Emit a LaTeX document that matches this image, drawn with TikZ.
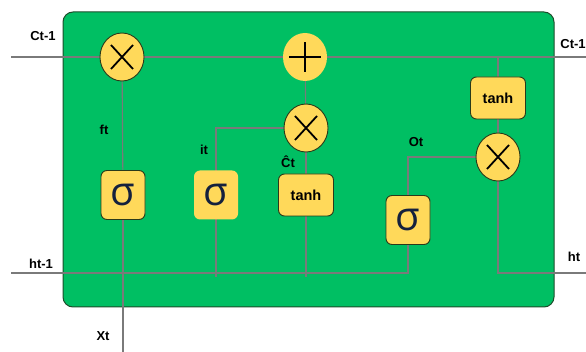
\documentclass[tikz,border=0pt]{standalone}
\usepackage{fontspec}
\setmainfont{Liberation Sans}
\newfontfamily\sigfont{Open Sans}
\usetikzlibrary{shapes.geometric}
\pgfdeclarelayer{boxlayer}
\pgfdeclarelayer{linelayer}
\pgfsetlayers{boxlayer,linelayer,main}
\definecolor{lstmgreen}{HTML}{00BF63}
\definecolor{boxedge}{HTML}{1E4D2B}
\definecolor{yel}{HTML}{FFD95A}
\definecolor{dark}{HTML}{2A3A1A}
\definecolor{lgray}{HTML}{7A7A7A}
\definecolor{navy}{HTML}{14213D}
\begin{document}
\begin{tikzpicture}[x=1pt,y=-1pt,
  conn/.style={draw=lgray,line width=1.1pt},
  opnode/.style={ellipse,fill=yel,minimum width=44pt,minimum height=48pt,inner sep=0pt},
  bordered/.style={draw=dark,line width=0.9pt},
  mulnode/.style={opnode,bordered,path picture={
     \draw[line width=1.8pt,black]
       ([shift={(-11pt,-12pt)}]path picture bounding box.center) -- ([shift={(11pt,12pt)}]path picture bounding box.center)
       ([shift={(-11pt,12pt)}]path picture bounding box.center) -- ([shift={(11pt,-12pt)}]path picture bounding box.center);}},
  plusnode/.style={opnode,path picture={
     \draw[line width=1.8pt,black]
       ([shift={(-16pt,0pt)}]path picture bounding box.center) -- ([shift={(16pt,0pt)}]path picture bounding box.center)
       ([shift={(0pt,-15pt)}]path picture bounding box.center) -- ([shift={(0pt,15pt)}]path picture bounding box.center);}},
  sigbox/.style={rectangle,rounded corners=6pt,fill=yel,minimum width=44pt,minimum height=49pt,inner sep=0pt,
     font=\sigfont\fontsize{40}{40}\selectfont,text=navy},
  tanhbox/.style={rectangle,rounded corners=6pt,fill=yel,bordered,minimum width=55pt,minimum height=42pt,inner sep=0pt,
     font=\bfseries\fontsize{14.5}{14.5}\selectfont},
  lbl/.style={font=\bfseries\fontsize{13}{13}\selectfont,inner sep=0pt}
]
\useasboundingbox (0,0) rectangle (586,352);
\begin{pgfonlayer}{boxlayer}
\fill[white] (0,0) rectangle (586,352);
\draw[fill=lstmgreen,draw=boxedge,line width=1pt,rounded corners=10pt] (63,12) rectangle (554,307);
\end{pgfonlayer}

% free ends
\coordinate (cin) at (11,57);
\coordinate (cout) at (586,57);
\coordinate (hin) at (11,273);
\coordinate (hturn) at (408,273);
\coordinate (hout) at (586,273);
\coordinate (xin) at (123,352);
\coordinate (stubA) at (216,277);
\coordinate (stubB) at (306,277);
\coordinate (ctap) at (498,57);

% nodes
\node[mulnode] (m1) at (122,57) {};
\node[plusnode] (plus) at (305,57) {};
\node[mulnode] (m2) at (306,128) {};
\node[mulnode] (m3) at (498,157) {};
\node[tanhbox] (th2) at (498,98) {tanh};
\node[sigbox,bordered] (s1) at (123,195) {σ};
\node[sigbox] (s2) at (216,195) {σ};
\node[tanhbox] (th1) at (306,195) {tanh};
\node[sigbox,bordered] (s3) at (408,220) {σ};

% connectors (behind nodes)
\begin{pgfonlayer}{linelayer}
\path[conn] (cin) -- (m1.center);
\path[conn] (m1.center) -- (plus.center);
\path[conn] (plus.center) -- (cout);
\path[conn] (s1.center) -- (m1.center);
\path[conn] (xin) -- (s1.center);
\path[conn] (hin) -- (hturn) -- (s3.center);
\path[conn] (s2.center) -- (stubA);
\path[conn] (th1.center) -- (stubB);
\path[conn] (s2.center) |- (m2.center);
\path[conn] (th1.center) -- (m2.center);
\path[conn] (m2.center) -- (plus.center);
\path[conn] (s3.center) |- (m3.center);
\path[conn] (m3.center) -- (th2.center);
\path[conn] (th2.center) -- (ctap);
\path[conn] (m3.center) |- (hout);
\end{pgfonlayer}

% labels
\node[lbl] (lc1) at (43,36) {Ct-1};
\node[lbl] (lc2) at (573,44) {Ct-1};
\node[lbl] (lft) at (104,130) {ft};
\node[lbl] (lit) at (204,150) {it};
\node[lbl] (lct) at (288,162) {Ĉt};
\node[lbl] (lot) at (416,142) {Ot};
\node[lbl] (lh1) at (41,264) {ht-1};
\node[lbl] (lht) at (574,257) {ht};
\node[lbl] (lxt) at (103,336) {Xt};
\end{tikzpicture}
\end{document}
